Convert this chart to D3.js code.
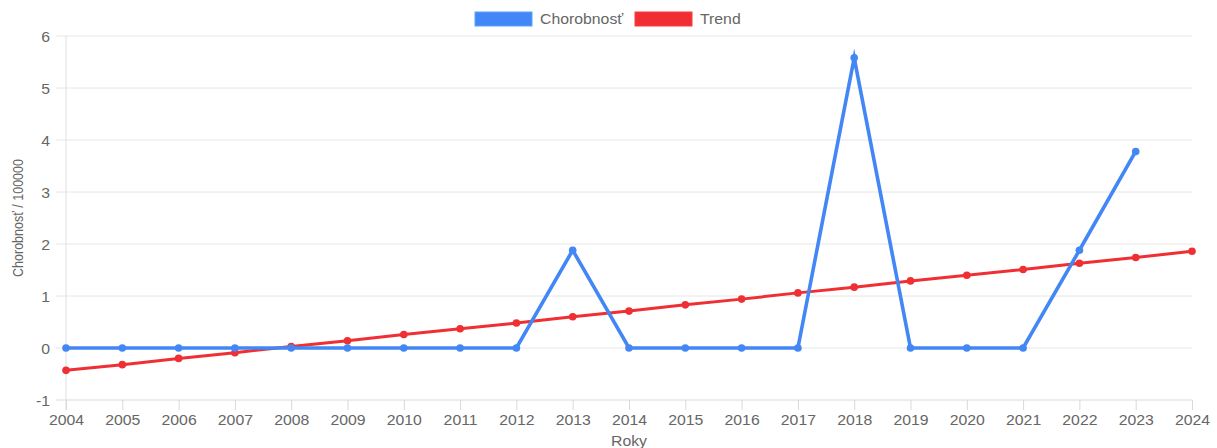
<!DOCTYPE html>
<html>
<head>
<meta charset="utf-8">
<script src="https://cdn.jsdelivr.net/npm/d3@7"></script>
<style>
  html, body { margin: 0; padding: 0; background: #fff; }
  svg { display: block; }
  text { font-family: "Liberation Sans", Arial, sans-serif; fill: #666; }
</style>
</head>
<body>
<svg id="chart" width="1217" height="448"></svg>
<script>
const years = [2004,2005,2006,2007,2008,2009,2010,2011,2012,2013,2014,2015,2016,2017,2018,2019,2020,2021,2022,2023,2024];
const morbidity = [0,0,0,0,0,0,0,0,0,1.88,0,0,0,0,5.58,0,0,0,1.88,3.78,null];
const trend = [-0.43,-0.32,-0.20,-0.09,0.03,0.14,0.26,0.37,0.48,0.60,0.71,0.83,0.94,1.06,1.17,1.29,1.40,1.51,1.63,1.74,1.86];
const yTicks = [-1,0,1,2,3,4,5,6];
const seriesNames = ["Chorobnosť", "Trend"];
const yTitle = "Chorobnosť / 100000";
const xTitle = "Roky";

const BLUE = "#4287f5", RED = "#ef2f33";
const SX = 1.13; // horizontal text stretch seen in reference

const svg = d3.select("#chart");
const plotL = 66, plotR = 1192, plotT = 36, plotB = 400;
const x = d3.scalePoint().domain(years).range([plotL, plotR]);
const y = d3.scaleLinear().domain([-1, 6]).range([plotB, plotT]);

// grid lines
svg.append("g").selectAll("line").data(yTicks).join("line")
  .attr("x1", plotL - 10).attr("x2", plotR)
  .attr("y1", d => y(d)).attr("y2", d => y(d))
  .attr("stroke", d => d === -1 ? "#d9d9d9" : "#e6e6e6").attr("stroke-width", 1);

// y axis line
svg.append("line").attr("x1", plotL).attr("x2", plotL).attr("y1", plotT).attr("y2", plotB + 10)
  .attr("stroke", "#e0e0e0");

// x axis ticks
const xAxis = d3.axisBottom(x).tickSize(10).tickSizeOuter(0).tickPadding(4);
const gx = svg.append("g").attr("transform", `translate(0,${plotB})`).call(xAxis);
gx.select(".domain").remove();
gx.selectAll(".tick line").attr("stroke", "#d9d9d9");
gx.selectAll(".tick text").attr("fill", "#666").attr("font-size", 14)
  .attr("font-family", '"Liberation Sans", Arial, sans-serif')
  .attr("y", 25).attr("dy", null).attr("transform", `scale(${SX},1)`);

// y axis labels
const yAxis = d3.axisLeft(y).tickValues(yTicks).tickSize(0).tickPadding(0).tickFormat(d => String(d));
const gy = svg.append("g").attr("transform", `translate(${plotL - 16},0)`).call(yAxis);
gy.select(".domain").remove();
gy.selectAll(".tick text").attr("fill", "#666").attr("font-size", 14)
  .attr("font-family", '"Liberation Sans", Arial, sans-serif')
  .attr("x", 0).attr("dy", "0.36em").attr("transform", `scale(${SX},1)`);

// axis titles
svg.append("text").attr("transform", `translate(18,${(plotT + plotB) / 2}) scale(${SX},1) rotate(-90)`)
  .attr("text-anchor", "middle").attr("dy", "0.35em").attr("font-size", 12.5).text(yTitle);
svg.append("text").attr("transform", `translate(${(plotL + plotR) / 2},446) scale(${SX},1)`)
  .attr("text-anchor", "middle").attr("font-size", 14).text(xTitle);

// lines
const pts = (vals) => years.map((yr, i) => ({ yr, v: vals[i] })).filter(d => d.v !== null);
const line = d3.line().x(d => x(d.yr)).y(d => y(d.v));

function drawSeries(vals, color, width, r) {
  const data = pts(vals);
  svg.append("path").datum(data).attr("d", line)
    .attr("fill", "none").attr("stroke", color).attr("stroke-width", width)
    .attr("stroke-linejoin", "miter").attr("stroke-miterlimit", 10);
  svg.append("g").selectAll("circle").data(data).join("circle")
    .attr("cx", d => x(d.yr)).attr("cy", d => y(d.v)).attr("r", r).attr("fill", color);
}
drawSeries(trend, RED, 3, 3.8);
drawSeries(morbidity, BLUE, 3.6, 3.8);

// legend
const legend = svg.append("g");
const items = [
  { name: seriesNames[0], color: BLUE, bx: 475, tx: 540 },
  { name: seriesNames[1], color: RED, bx: 635, tx: 700 }
];
items.forEach(it => {
  legend.append("rect").attr("x", it.bx).attr("y", 12).attr("width", 57).attr("height", 14)
    .attr("fill", it.color).attr("stroke", d3.color(it.color).brighter(0.6)).attr("stroke-width", 1);
  legend.append("text").attr("transform", `translate(${it.tx},24) scale(${SX},1)`)
    .attr("font-size", 14).text(it.name);
});
</script>
</body>
</html>
